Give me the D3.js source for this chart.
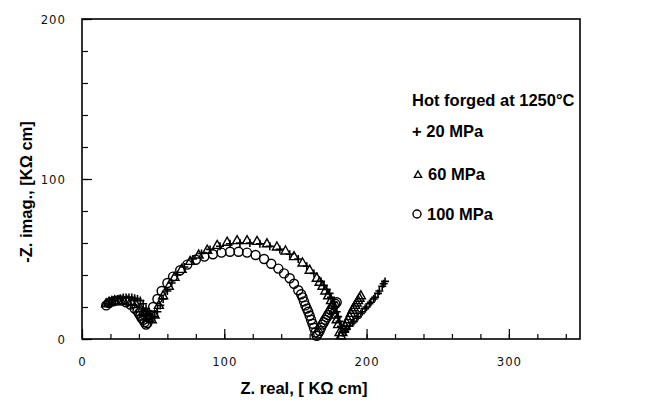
<!DOCTYPE html>
<html><head><meta charset="utf-8">
<script src="https://cdn.jsdelivr.net/npm/d3@7/dist/d3.min.js"></script>
<style>
body{margin:0;background:#fff;}
svg{display:block;}
.tick text{font-family:"DejaVu Sans Condensed","DejaVu Sans",sans-serif;font-size:13px;fill:#111;letter-spacing:1px;}
.ttl{font-family:"Liberation Sans",Arial,sans-serif;font-weight:bold;fill:#000;}
</style></head><body>
<svg id="c" width="653" height="402"></svg>
<script>
// ---- data (Z real, -Z imag) in kOhm cm ----
const xTicksMajor = [0, 100, 200, 300];
const yTicksMajor = [0, 100, 200];
const legendTitle = "Hot forged at 1250°C";
const seriesNames = ["+ 20 MPa", "60 MPa", "100 MPa"];

const mpa20 = [
 [19,22],[21,23],[23,24],[25,25],[27,25.5],[29,26],[31,26],[33,26],[35,26],[37,25.5],[39,25],[41,24],[43,22],[45,19],[46,17],[47,16],[48,15],[49,14],[51,14],
 [53,17],[55,21],[57,25],[60,30],[63,35],[67,40],[72,45],[78,50],[84,53.5],[90,56],[97,58],[104,59.5],[111,60],[118,60],[125,59.5],[132,58],[139,56],[146,53],[152,50],[158,45.5],[163,41],[168,36],[170,33.5],[172,31],[174,28.5],[175,26],[177,23],[178,20],[179,17],[180,14],[181,11],[182,8],[183,4],
 [185,5],[186,6.5],[188,8],[190,10],[191,11],[193,13],[194,14],[196,16],[197,17],[199,19],[200,20],[202,22],[203,23],[205,25],[206,26],[208,28.5],[209,30],[211,33],[212,34.5],[213,36]
];
const mpa60 = [
 [17,22],[19,23],[21,23.5],[23,24],[26,24],[29,24],[32,23.5],[35,23],[38,21.5],[41,19],[43,17],[44,16],[46,14],[47,13],[49,12],
 [51,15],[54,21],[57,27],[61,33],[65,38.5],[70,43.5],[76,48.5],[82,52.5],[88,55.5],[95,58.5],[102,60.5],[109,61.5],[116,61.5],[123,61],[130,59.5],[137,57.5],[143,55],[149,51.5],[155,47.5],[160,43],[165,38],[167,35.5],[169,33],[171,30],[173,27],[175,24],[176,21],[177,18],[178,15],[179,12],[180,9],[181,4],[182,2],
 [183,4],[184,6],[185,8],[186,10],[187,12],[188,14],[189,16],[190,18],[191,19.5],[192,21],[193,22.5],[194,24],[195,25.5],[196,27]
];
const mpa100 = [
 [17,21],[19,22.5],[22,23.5],[25,24],[28,24],[31,23],[34,21.5],[37,19],[39,17.5],[40,16],[41,14.5],[42,13],[43,12],[44,10.5],[45,9],
 [46,10],[48,15],[50,20],[53,25],[56,30],[60,35],[64,39],[69,43],[74,46.5],[80,49.5],[86,51.5],[92,53],[98,54],[104,54.5],[110,54.5],[116,54],[122,52.5],[128,50],[133,47],[138,44],[142,41],[146,38],[149,34.5],[152,30.5],[154,28],[155,26],[156,23.5],[157,21],[158,19],[159,17],[160,14.5],[161,12],[162,9.5],[163,7],[164,4],[165,2],
 [166,3.5],[167,5],[168,7],[169,9],[170,10.5],[171,12],[172,13.5],[173,15],[174,16.5],[175,18],[176,19.5],[177,21],[178,22],[179,23]
];

const svg = d3.select("#c");
const L = 82, R = 580, T = 19, B = 339;
const x = d3.scaleLinear().domain([0, 350]).range([L, R]);
const y = d3.scaleLinear().domain([0, 200]).range([B, T]);

// frame
svg.append("rect").attr("x", L).attr("y", T).attr("width", R - L).attr("height", B - T)
  .attr("fill", "none").attr("stroke", "#000").attr("stroke-width", 1.6);

// ticks
const gxm = svg.append("g").attr("transform", `translate(0,${B})`)
  .call(d3.axisBottom(x).tickValues(d3.range(0, 351, 20)).tickSize(-5).tickFormat(""));
const gx = svg.append("g").attr("transform", `translate(0,${B})`)
  .call(d3.axisBottom(x).tickValues(xTicksMajor).tickSize(-10).tickPadding(18).tickFormat(d3.format("d")));
const gym = svg.append("g").attr("transform", `translate(${L},0)`)
  .call(d3.axisLeft(y).tickValues(d3.range(0, 201, 20)).tickSize(-6).tickFormat(""));
const gy = svg.append("g").attr("transform", `translate(${L},0)`)
  .call(d3.axisLeft(y).tickValues(yTicksMajor).tickSize(-10).tickPadding(16).tickFormat(d3.format("d")));
[gxm, gx, gym, gy].forEach(g => { g.select(".domain").remove(); g.selectAll("line").attr("stroke", "#000").attr("stroke-width", 1.2); });

// axis titles
svg.append("text").attr("class", "ttl").attr("x", 304).attr("y", 394)
  .attr("text-anchor", "middle").attr("font-size", 16.5).text("Z. real, [ KΩ cm]");
svg.append("text").attr("class", "ttl").attr("transform", "translate(32,192) rotate(-90)")
  .attr("text-anchor", "middle").attr("font-size", 16.5).text("-Z. imag., [KΩ cm]");

// markers
const plot = svg.append("g");
function plus(g, cx, cy, s) {
  g.append("path").attr("d", `M${cx - s},${cy}H${cx + s}M${cx},${cy - s}V${cy + s}`)
    .attr("stroke", "#000").attr("stroke-width", 1.6).attr("fill", "none");
}
function tri(g, cx, cy, s) {
  g.append("path").attr("d", `M${cx},${cy - s}L${cx + s * 0.9},${cy + s * 0.6}L${cx - s * 0.9},${cy + s * 0.6}Z`)
    .attr("stroke", "#000").attr("stroke-width", 1.4).attr("fill", "none");
}
mpa20.forEach(d => plus(plot, x(d[0]), y(d[1]), 4));
mpa60.forEach(d => tri(plot, x(d[0]), y(d[1]), 5));
plot.selectAll("circle.c").data(mpa100).enter().append("circle").attr("class", "c")
  .attr("cx", d => x(d[0])).attr("cy", d => y(d[1])).attr("r", 4.5)
  .attr("fill", "none").attr("stroke", "#000").attr("stroke-width", 1.4);

// legend
const lg = svg.append("g");
const fs = 16.5;
lg.append("text").attr("class", "ttl").attr("x", 412).attr("y", 106).attr("font-size", fs).text(legendTitle);
lg.append("text").attr("class", "ttl").attr("x", 412).attr("y", 137).attr("font-size", fs).text(seriesNames[0]);
tri(lg, 418, 175, 4);
lg.append("text").attr("class", "ttl").attr("x", 428).attr("y", 180).attr("font-size", fs).text(seriesNames[1]);
lg.append("circle").attr("cx", 417).attr("cy", 214).attr("r", 4).attr("fill", "none").attr("stroke", "#000").attr("stroke-width", 1.4);
lg.append("text").attr("class", "ttl").attr("x", 427).attr("y", 220).attr("font-size", fs).text(seriesNames[2]);
</script></body></html>
